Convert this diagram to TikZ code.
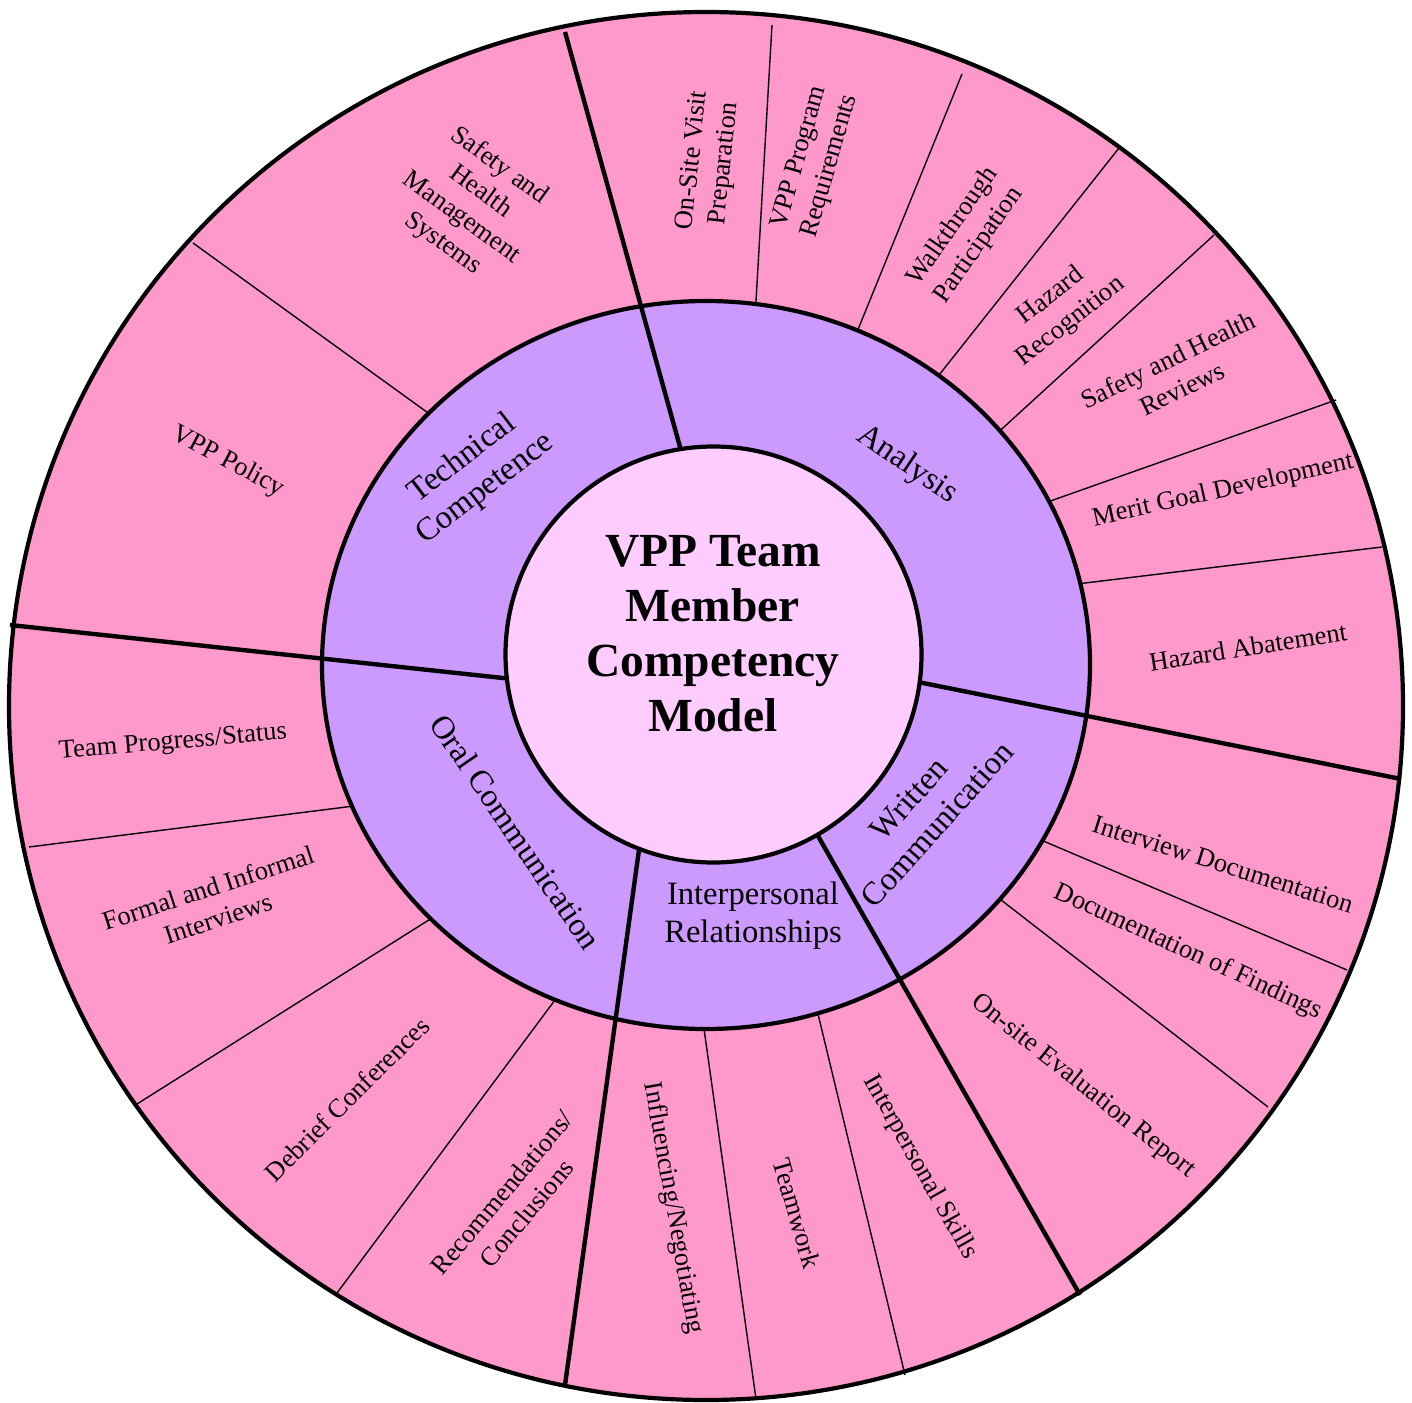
\documentclass[tikz,border=0pt]{standalone}
\usepackage{fontspec}
\setmainfont{Liberation Serif}
\usetikzlibrary{calc}
\definecolor{outerpink}{HTML}{FF99CC}
\definecolor{ringpurple}{HTML}{CC99FF}
\definecolor{corepink}{HTML}{FFCCFF}
\tikzset{
  outerlbl/.style={font=\fontsize{13.25}{16}\selectfont, align=center, inner sep=0pt},
  midlbl/.style={font=\fontsize{16.3}{19}\selectfont, align=center, inner sep=0pt},
  titlelbl/.style={font=\fontsize{23.75}{27.5}\selectfont\bfseries, align=center, inner sep=0pt},
  thinspoke/.style={line width=0.7pt},
  thickspoke/.style={line width=2.2pt},
  ringline/.style={line width=2.1pt},
}
\begin{document}
\begin{tikzpicture}[x=0.5pt,y=-0.5pt]
\useasboundingbox (0,0) rectangle (1412,1402);
\fill[white] (0,0) rectangle (1412,1402);
% centres
\coordinate (oc) at (706,706);
\coordinate (mc) at (706,665);
\coordinate (ic) at (713.5,654.5);
% outer disc
\fill[outerpink] (oc) ellipse [x radius=348.5pt, y radius=347pt];
% thin spokes (outer ring)
\foreach \n/\ax/\ay/\bx/\by in {
  a/756/301/772/25,
  b/859/327/962/74,
  c/943/370/1119/148,
  d/1004/427/1214/235,
  e/1056/499/1336/400,
  f/1085/583/1382/547,
  g/1048/843/1347/970,
  h/1005/903/1268/1107,
  i/818/1014/905/1375,
  j/705/1036/756/1399,
  k/549/1008/337/1293,
  l/424/923/137/1104,
  m/346/807/29/847,
  n/424/410/193/243} {
  \coordinate (t\n s) at (\ax,\ay);
  \coordinate (t\n e) at (\bx,\by);
  \draw[thinspoke] ($(t\n s)!-5pt!(t\n e)$) -- (t\n e);
}
% middle ring
\draw[ringline, fill=ringpurple] (mc) ellipse [x radius=192pt, y radius=182pt];
% thick spokes
\foreach \n/\ax/\ay/\bx/\by in {
  1/680/447/565/32,
  2/923/683/1401/779,
  3/822/843/1080/1295,
  4/638/857/565/1385,
  5/503/678/10/625} {
  \coordinate (k\n s) at (\ax,\ay);
  \coordinate (k\n e) at (\bx,\by);
  \draw[thickspoke] ($(k\n s)!-8pt!(k\n e)$) -- (k\n e);
}
% inner circle
\draw[ringline, fill=corepink] (ic) circle [radius=104pt];
% outer border
\draw[ringline] (oc) ellipse [x radius=348.5pt, y radius=347pt];

% title
\node[titlelbl] (title) at (713,634) {VPP Team\\Member\\Competency\\Model};

% middle labels
\node[midlbl, rotate=37.5] (tech) at (474,474) {Technical\\Competence};
\node[midlbl, rotate=-34] (anal) at (907,465) {Analysis};
\node[midlbl, rotate=-55.5] (oral) at (516,832) {Oral Communication};
\node[midlbl] (inter) at (753,916) {Interpersonal\\Relationships};
\node[midlbl, rotate=48] (writ) at (923,812) {Written\\Communication};

% outer labels
\node[outerlbl, rotate=-36] (shms) at (471,205) {Safety and\\Health\\Management\\Systems};
\node[outerlbl, rotate=-28] (vppp) at (228,462) {VPP Policy};
\node[outerlbl, rotate=84] (osvp) at (709,162) {On-Site Visit\\Preparation};
\node[outerlbl, rotate=74] (vppr) at (815,162) {VPP Program\\Requirements};
\node[outerlbl, rotate=55] (walk) at (966,236) {Walkthrough\\Participation};
\node[outerlbl, rotate=38] (hrec) at (1061,309) {Hazard\\Recognition};
\node[outerlbl, rotate=26] (shr) at (1175,374) {Safety and Health\\Reviews};
\node[outerlbl, rotate=12.5] (merit) at (1223,491) {Merit Goal Development};
\node[outerlbl, rotate=9] (habat) at (1248,647) {Hazard Abatement};
\node[outerlbl, rotate=-17.5] (intdoc) at (1223,864) {Interview Documentation};
\node[outerlbl, rotate=-24.5] (docf) at (1188,952) {Documentation of Findings};
\node[outerlbl, rotate=-38.5] (oser) at (1083,1086) {On-site Evaluation Report};
\node[outerlbl, rotate=-60.5] (iskill) at (920,1167) {Interpersonal Skills};
\node[outerlbl, rotate=-74] (teamw) at (797,1213) {Teamwork};
\node[outerlbl, rotate=-80] (infl) at (673,1208) {Influencing/Negotiating};
\node[outerlbl, rotate=50] (recom) at (514,1203) {Recommendations/\\Conclusions};
\node[outerlbl, rotate=45] (debr) at (347,1099) {Debrief Conferences};
\node[outerlbl, rotate=18] (formal) at (213,903) {Formal and Informal\\Interviews};
\node[outerlbl, rotate=5] (tprog) at (173,743) {Team Progress/Status};
\end{tikzpicture}
\end{document}
